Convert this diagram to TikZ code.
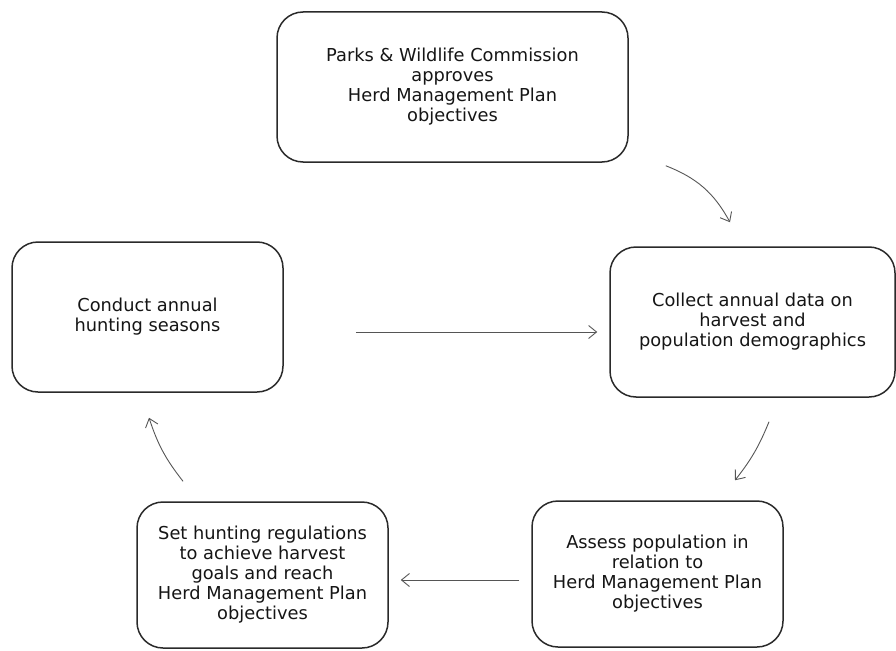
\documentclass[tikz,border=0pt]{standalone}
\usepackage{fontspec}
\usepackage{tikz}
\usetikzlibrary{arrows.meta}
\setmainfont{DejaVu Sans}
\definecolor{boxLine}{HTML}{2A2A2A}
\definecolor{arrowLine}{HTML}{555555}
\definecolor{labelText}{HTML}{151515}

\begin{document}
\begin{tikzpicture}[x=1pt,y=-1pt]
    \tikzstyle{stagebox}=[draw=boxLine, line width=1.5pt, rounded corners=26pt, inner sep=0pt,
      align=center, text=labelText, font=\fontsize{17.8}{20}\selectfont]
    \tikzstyle{cyclearrow}=[draw=arrowLine, line width=0.9pt, -{Straight Barb[length=8pt,width=13pt]}]

    \useasboundingbox (0,0) rectangle (896,650);

    \node[stagebox, minimum width=351pt, minimum height=150pt] (approve) at (452.5,87)
      {Parks \& Wildlife Commission\\approves\\Herd Management Plan\\objectives};
    \node[stagebox, minimum width=271pt, minimum height=150pt] (conduct) at (147.5,317)
      {Conduct annual\\hunting seasons};
    \node[stagebox, minimum width=285pt, minimum height=150pt] (collect) at (752.5,322)
      {Collect annual data on\\harvest and\\population demographics};
    \node[stagebox, minimum width=251pt, minimum height=146pt] (assess) at (657.5,574)
      {Assess population in\\relation to\\Herd Management Plan\\objectives};
    \node[stagebox, minimum width=251pt, minimum height=146pt] (setreg) at (262.5,575)
      {Set hunting regulations\\to achieve harvest\\goals and reach\\Herd Management Plan\\objectives};

    \draw[cyclearrow] ([xshift=37pt,yshift=-3pt]approve.south east) to[bend left=20] ([xshift=-22.5pt,yshift=24pt]collect.north);
    \draw[cyclearrow] ([xshift=72pt,yshift=-15pt]conduct.east) -- ([xshift=-12pt,yshift=-10pt]collect.west);
    \draw[cyclearrow] ([xshift=16.5pt,yshift=-24pt]collect.south) to[bend left=8] ([xshift=77.5pt,yshift=20pt]assess.north);
    \draw[cyclearrow] ([xshift=-12pt,yshift=-6pt]assess.west) -- ([xshift=12pt,yshift=-5pt]setreg.east);
    \draw[cyclearrow] ([xshift=-79.5pt,yshift=20pt]setreg.north) to[bend left=10] ([xshift=1.5pt,yshift=-25pt]conduct.south);
\end{tikzpicture}
\end{document}
